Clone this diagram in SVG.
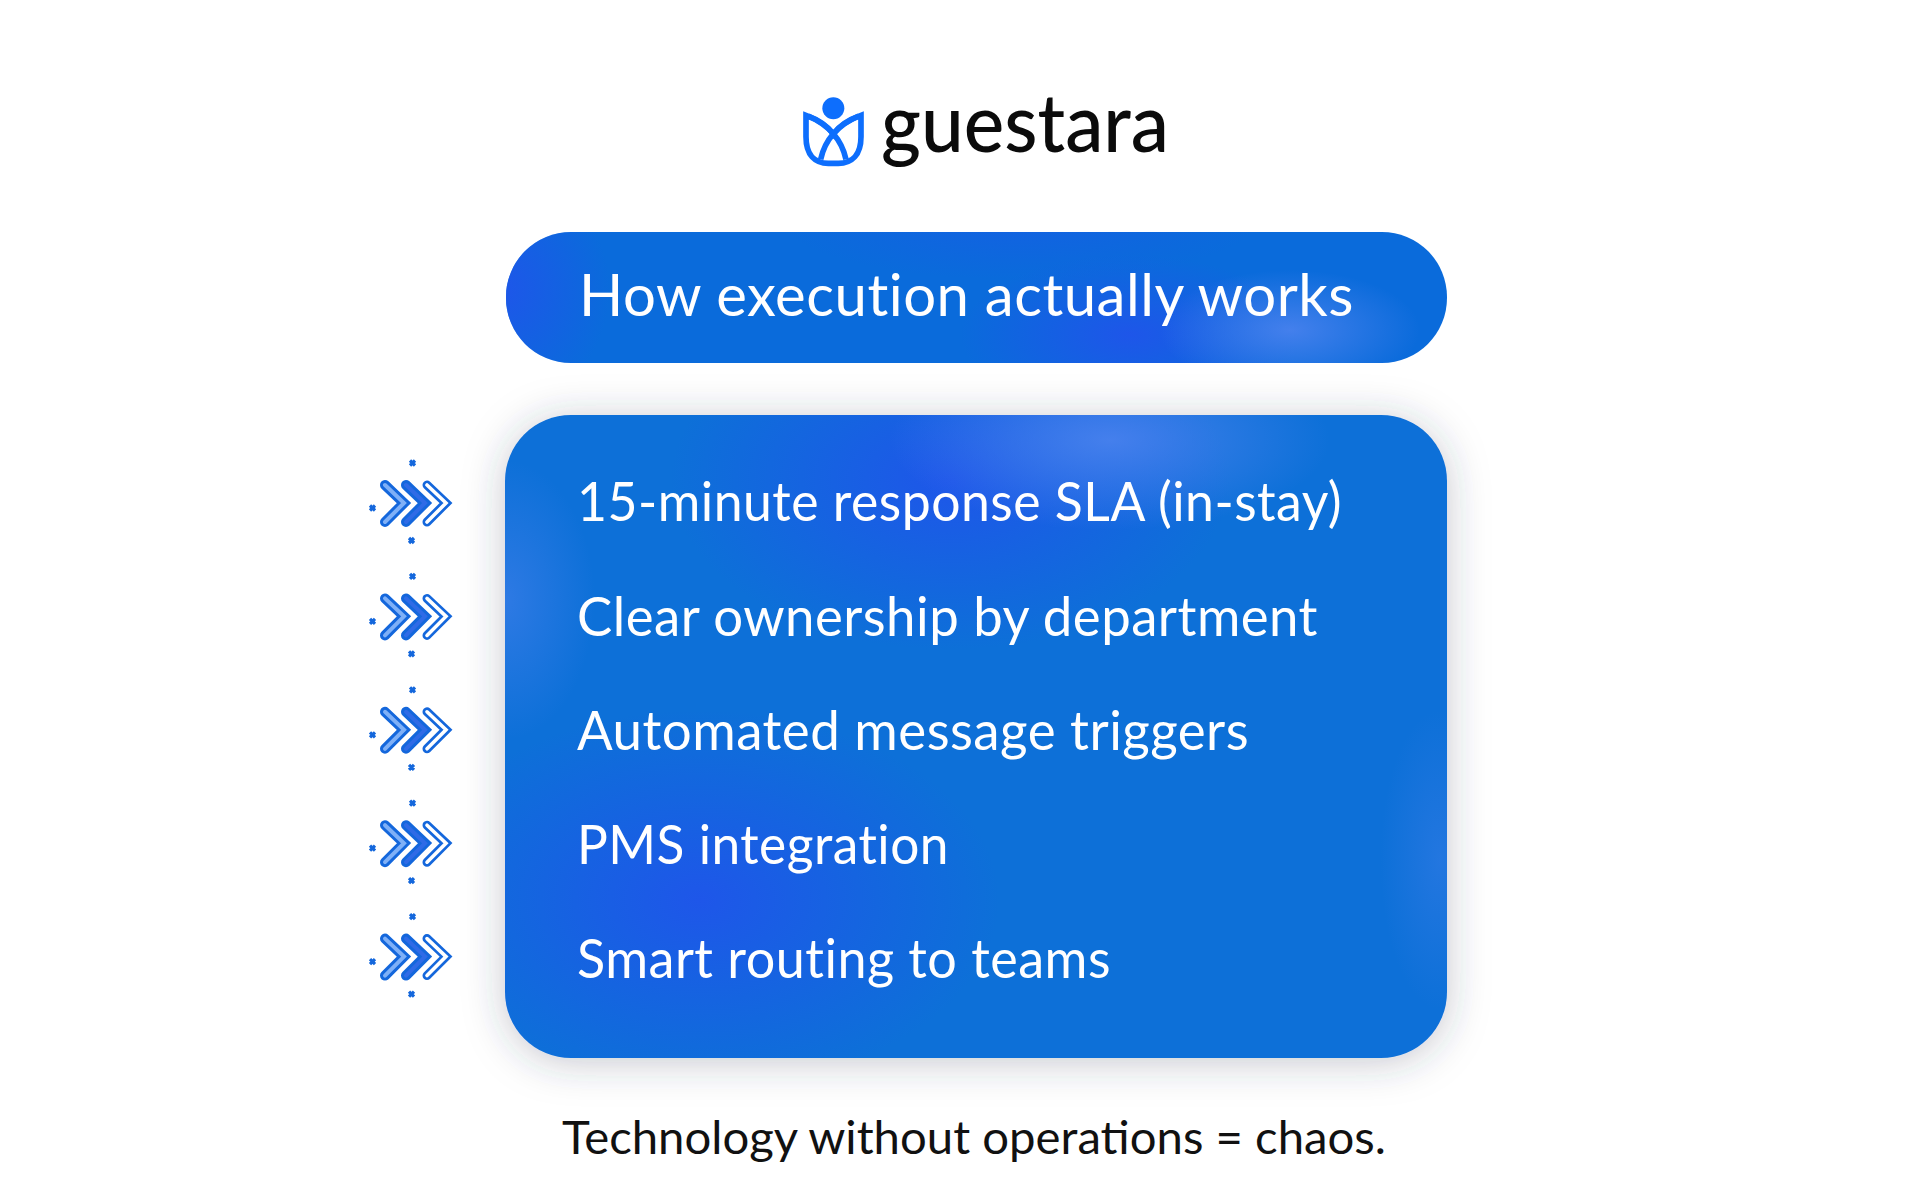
<svg xmlns="http://www.w3.org/2000/svg" xmlns:xlink="http://www.w3.org/1999/xlink" width="1920" height="1200" viewBox="0 0 1920 1200">
<style>
.t{font-family:"Lato","Liberation Sans",sans-serif;fill:#fff;font-size:54px;letter-spacing:.5px}
.c1{fill:none;stroke:#1467dc;stroke-linecap:round;stroke-linejoin:miter}
.x{stroke:#1467dc;stroke-width:3.2;fill:none}
.lg{fill:none;stroke:#0d6efd;stroke-width:17}
</style>
<defs>
<radialGradient id="b1"><stop offset="0" stop-color="#1f55ea" stop-opacity=".95"/><stop offset="1" stop-color="#1f55ea" stop-opacity="0"/></radialGradient>
<radialGradient id="w1"><stop offset="0" stop-color="#4a82ee" stop-opacity=".9"/><stop offset="1" stop-color="#4a82ee" stop-opacity="0"/></radialGradient>
<filter id="sh" x="-15%" y="-15%" width="130%" height="130%"><feDropShadow dx="0" dy="4" stdDeviation="20" flood-color="#2a3a55" flood-opacity=".28"/></filter>
<clipPath id="pc"><rect x="506" y="232" width="941" height="131" rx="65"/></clipPath>
<clipPath id="cc"><rect x="505" y="415" width="942" height="643" rx="66"/></clipPath>
<g id="chev">
<path class="c1" stroke-width="10" d="M385 485L404 503L385 522"/>
<path fill="none" stroke="#7fb0f7" stroke-width="4" stroke-linecap="round" d="M385 485L404 503L385 522"/>
<path class="c1" stroke-width="10" d="M406 485L425 503L406 522"/>
<path fill="none" stroke="#2f6be6" stroke-width="4" stroke-linecap="round" d="M406 485L425 503L406 522"/>
<path class="c1" stroke-width="9" d="M427 485L446 503L427 522"/>
<path fill="none" stroke="#fff" stroke-width="3.6" stroke-linecap="round" d="M427 485L446 503L427 522"/>
<path class="x" d="M410 460.500L415 465.500M415 460.500L410 465.500M370 505.500L375 510.500M375 505.500L370 510.500M409 538L414 543M414 538L409 543"/>
</g>
</defs>
<rect width="1920" height="1200" fill="#fff"/>
<g id="logo">
<g transform="translate(780 80) scale(.3333)">
<circle cx="160" cy="85" r="33" fill="#0d6efd"/>
<path class="lg" d="M78 106C112 118 142 136 160 162C178 136 208 118 243 106V170C243 225 215 250 175 250H145C105 250 78 225 78 170Z"/>
<path class="lg" d="M85 108C130 128 182 165 198 238M236 108C190 128 138 165 122 238"/>
</g>
<text x="881" y="152" font-family="Lato,sans-serif" font-size="82" font-weight="500" fill="#0b0b0b" textLength="288" lengthAdjust="spacingAndGlyphs">guestara</text>
</g>
<g id="title">
<rect x="506" y="232" width="941" height="131" rx="65" fill="#0a6bdb"/>
<g clip-path="url(#pc)">
<ellipse cx="500" cy="290" rx="110" ry="120" fill="url(#b1)"/>
<ellipse cx="1130" cy="335" rx="170" ry="80" fill="url(#b1)"/>
<ellipse cx="1290" cy="330" rx="130" ry="60" fill="url(#w1)"/>
<ellipse cx="1020" cy="220" rx="240" ry="60" fill="url(#b1)" opacity=".45"/>
</g>
<text class="t" x="579" y="316" style="font-size:58px" textLength="775" lengthAdjust="spacingAndGlyphs">How execution actually works</text>
</g>
<g id="card">
<rect x="505" y="415" width="942" height="643" rx="66" fill="#1070d8" filter="url(#sh)"/>
<g clip-path="url(#cc)">
<ellipse cx="950" cy="480" rx="280" ry="170" fill="url(#b1)"/>
<ellipse cx="1110" cy="440" rx="220" ry="90" fill="url(#w1)"/>
<ellipse cx="700" cy="900" rx="300" ry="190" fill="url(#b1)"/>
<ellipse cx="505" cy="600" rx="90" ry="140" fill="url(#w1)" opacity=".6"/>
<ellipse cx="1440" cy="860" rx="60" ry="150" fill="url(#w1)" opacity=".4"/>
</g>
<text class="t" x="577" y="521" textLength="765" lengthAdjust="spacingAndGlyphs">15-minute response SLA (in-stay)</text>
<text class="t" x="577" y="636" textLength="741" lengthAdjust="spacingAndGlyphs">Clear ownership by department</text>
<text class="t" x="577" y="750" textLength="672" lengthAdjust="spacingAndGlyphs">Automated message triggers</text>
<text class="t" x="577" y="864" textLength="372" lengthAdjust="spacingAndGlyphs">PMS integration</text>
<text class="t" x="577" y="978" textLength="534" lengthAdjust="spacingAndGlyphs">Smart routing to teams</text>
</g>
<g id="connectors">
<use href="#chev"/>
<use href="#chev" y="113.400"/>
<use href="#chev" y="226.800"/>
<use href="#chev" y="340.200"/>
<use href="#chev" y="453.600"/>
</g>
<g id="footer">
<text x="562" y="1154" font-family="Lato,sans-serif" font-size="47" fill="#111" textLength="824" lengthAdjust="spacingAndGlyphs">Technology without operations = chaos.</text>
</g>
</svg>
